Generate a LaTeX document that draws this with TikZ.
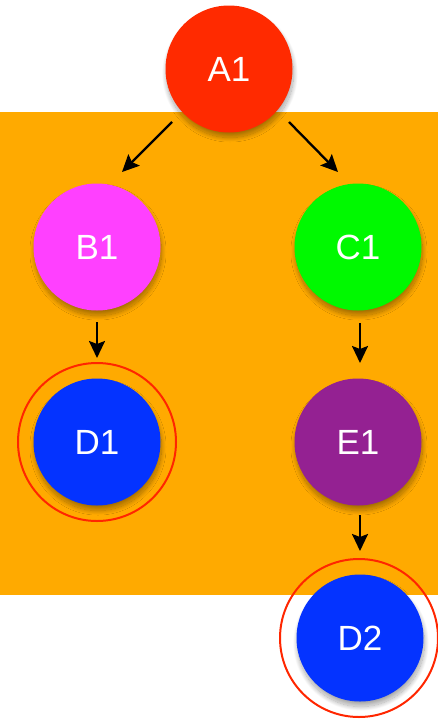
\documentclass[tikz,border=0pt]{standalone}
\usepackage{fontspec}
\setmainfont{Liberation Sans}
\usetikzlibrary{arrows.meta,calc,shadows.blur}
\definecolor{bgorange}{HTML}{FFAA00}
\definecolor{cA}{HTML}{FF2A00}
\definecolor{cB}{HTML}{FF40FF}
\definecolor{cC}{HTML}{00F900}
\definecolor{cD}{HTML}{0433FF}
\definecolor{cE}{HTML}{942192}
\definecolor{ring}{HTML}{FF2600}
\tikzset{
  ball/.style={circle,minimum size=127pt,inner sep=0pt,text=white,
    font=\fontsize{35}{35}\selectfont,
    blur shadow={shadow xshift=1pt,shadow yshift=-5pt,shadow blur steps=25,shadow blur radius=4.5pt,shadow opacity=35}},
  ringc/.style={circle,draw=ring,line width=2pt,minimum size=158pt,inner sep=0pt},
  arr/.style={-{Stealth[length=17pt,width=16pt,inset=3pt]},line width=2.3pt,black}
}
\begin{document}
\begin{tikzpicture}[x=1pt,y=-1pt]
\useasboundingbox (0,0) rectangle (438,720);
\fill[bgorange] (0,112) rectangle (438,595);
\node[ringc] (R1) at (97,442) {};
\node[ringc] (R2) at (359,638) {};
\node[ball,fill=cA] (A1) at (229,69) {A1};
\node[ball,fill=cB] (B1) at (97,247) {B1};
\node[ball,fill=cC] (C1) at (358,247) {C1};
\node[ball,fill=cD] (D1) at (97,442) {D1};
\node[ball,fill=cE] (E1) at (358,442) {E1};
\node[ball,fill=cD] (D2) at (360,638) {D2};
\draw[arr] ($(A1)+(-57,53)$) -- ($(B1)+(25,-75)$);
\draw[arr] ($(A1)+(60,53)$) -- ($(C1)+(-20,-75)$);
\draw[arr] ($(B1)+(0,75)$) -- ($(D1)+(0,-84)$);
\draw[arr] ($(C1)+(2,76)$) -- ($(E1)+(2,-79)$);
\draw[arr] ($(E1)+(2,73)$) -- ($(D2)+(0,-87)$);
\end{tikzpicture}
\end{document}
